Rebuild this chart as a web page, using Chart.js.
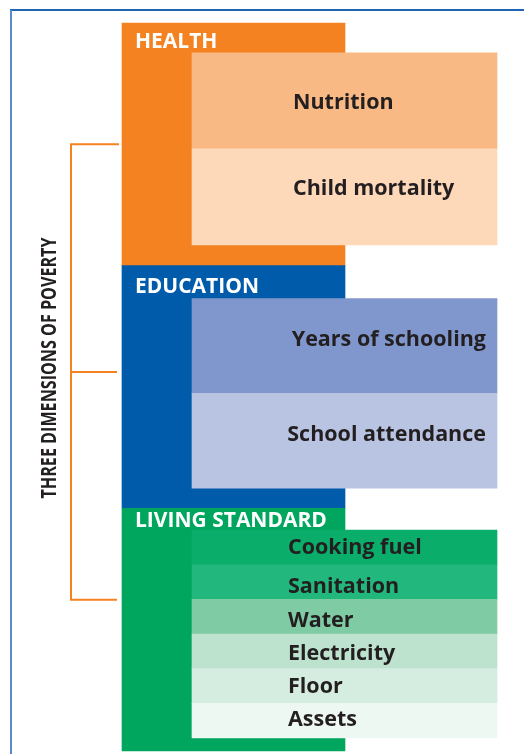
<!DOCTYPE html>
<html>
<head>
<meta charset="utf-8">
<script src="https://cdn.jsdelivr.net/npm/chart.js@4/dist/chart.umd.min.js"></script>
<style>
  html, body { margin: 0; padding: 0; background: #fff; }
  canvas { display: block; }
</style>
</head>
<body>
<canvas id="mpi" width="524" height="754"></canvas>
<script>
// datos del diagrama: dimensiones, indicadores y sus pesos
const columns = ['Dimension', 'Indicator'];
const dimensions = ['HEALTH', 'EDUCATION', 'LIVING STANDARD'];
const dimensionWeights = [1/3, 1/3, 1/3];
const indicators = ['Nutrition', 'Child mortality', 'Years of schooling', 'School attendance',
  'Cooking fuel', 'Sanitation', 'Water', 'Electricity', 'Floor', 'Assets'];
const indicatorDimension = [0, 0, 1, 1, 2, 2, 2, 2, 2, 2];
const indicatorWeights = [1/6, 1/6, 1/6, 1/6, 1/18, 1/18, 1/18, 1/18, 1/18, 1/18];
const sideTitle = 'THREE DIMENSIONS OF POVERTY';

// colores y estilos
const dimensionColors = ['#f58220', '#005baa', '#00a65d'];
const indicatorColors = ['#f9b984', '#fdd9b9', '#8097ce', '#b9c4e3',
  '#0bad6a', '#21b77d', '#7fcba4', '#bde3cf', '#d5ece0', '#eef8f3'];
const innerPadTop = [0.123, 0.136, 0.09];     // fraccion de la dimension
const innerPadBottom = [0.086, 0.083, 0.054];
const titleOffset = [25, 27, 19];
const labelAlign = ['left', 'right', 'left'];
const labelShift = [0, -10, -8, -8, -1, 3, 2, 1, -1, -3];
const textColor = '#231f20';

// rangos flotantes a partir de los pesos
let acc = 0;
const dimensionRanges = dimensionWeights.map(w => { const r = [acc, acc + w]; acc += w; return r; });

const indicatorRanges = [];
dimensions.forEach((d, k) => {
  const [s, e] = dimensionRanges[k];
  const w = e - s;
  const top = s + innerPadTop[k] * w;
  const bottom = e - innerPadBottom[k] * w;
  let total = 0;
  indicatorWeights.forEach((iw, i) => { if (indicatorDimension[i] === k) total += iw; });
  let c = top;
  indicatorWeights.forEach((iw, i) => {
    if (indicatorDimension[i] !== k) return;
    const h = (bottom - top) * iw / total;
    indicatorRanges[i] = [c, c + h];
    c += h;
  });
});

const decor = {
  id: 'decor',
  beforeDraw(chart) {
    const ctx = chart.ctx;
    ctx.save();
    ctx.fillStyle = '#fff';
    ctx.fillRect(0, 0, chart.width, chart.height);
    ctx.lineWidth = 2;
    ctx.strokeStyle = '#1f64b5';
    ctx.beginPath(); ctx.moveTo(10, 10); ctx.lineTo(chart.width, 10); ctx.stroke();
    ctx.strokeStyle = '#5b8ac6';
    ctx.beginPath(); ctx.moveTo(11, 10); ctx.lineTo(11, chart.height); ctx.stroke();
    ctx.restore();
  },
  afterDatasetsDraw(chart) {
    const ctx = chart.ctx;
    const dims = chart.getDatasetMeta(0).data;
    const inds = chart.getDatasetMeta(1).data;
    ctx.save();

    // titulos de las dimensiones
    ctx.fillStyle = '#fff';
    ctx.font = '700 21px "Open Sans"';
    ctx.textAlign = 'left';
    ctx.textBaseline = 'alphabetic';
    dims.forEach((el, k) => {
      const left = el.x - el.width / 2;
      const top = Math.min(el.y, el.base);
      ctx.fillText(dimensions[k], left + 13, top + titleOffset[k]);
    });

    // nombres de los indicadores
    ctx.fillStyle = textColor;
    ctx.font = '700 21.5px "Open Sans"';
    inds.forEach((el, i) => {
      const k = indicatorDimension[i];
      const left = el.x - el.width / 2;
      const right = el.x + el.width / 2;
      const mid = (el.y + el.base) / 2;
      ctx.textAlign = labelAlign[k];
      const x = labelAlign[k] === 'right' ? right - 11 : left + (k === 2 ? 96 : 101);
      ctx.fillText(indicators[i], x, mid + 8 + labelShift[i]);
    });

    // corchete naranja
    const first = dims[0], last = dims[dims.length - 1];
    const dimLeft = first.x - first.width / 2;
    const yTop = (first.y + first.base) / 2;
    const yBot = (last.y + last.base) / 2 - 30;
    const yMid = (yTop + yBot) / 2;
    const xv = dimLeft - 51;
    ctx.strokeStyle = dimensionColors[0];
    ctx.lineWidth = 2;
    ctx.beginPath();
    ctx.moveTo(dimLeft - 3, yTop); ctx.lineTo(xv, yTop); ctx.lineTo(xv, yBot); ctx.lineTo(dimLeft - 5, yBot);
    ctx.moveTo(xv, yMid); ctx.lineTo(dimLeft - 5, yMid);
    ctx.stroke();

    // titulo vertical
    ctx.fillStyle = textColor;
    ctx.font = '700 21px "Open Sans"';
    ctx.textAlign = 'center';
    ctx.textBaseline = 'middle';
    const natural = ctx.measureText(sideTitle).width;
    ctx.translate(dimLeft - 72, yMid - 4);
    ctx.rotate(-Math.PI / 2);
    ctx.scale(261 / natural, 1);
    ctx.fillText(sideTitle, 0, 0);
    ctx.restore();
  }
};

new Chart(document.getElementById('mpi'), {
  type: 'bar',
  data: {
    labels: columns,
    datasets: [
      {
        label: 'Dimensions',
        data: dimensionRanges.map(r => ({ x: columns[0], y: r })),
        backgroundColor: dimensionColors,
        barThickness: 223,
        grouped: false,
        clip: false,
        borderWidth: 0,
        order: 2
      },
      {
        label: 'Indicators',
        data: indicatorRanges.map(r => ({ x: columns[1], y: r })),
        backgroundColor: indicatorColors,
        barThickness: 305,
        grouped: false,
        clip: false,
        borderWidth: 0,
        order: 1
      }
    ]
  },
  options: {
    responsive: false,
    animation: false,
    layout: { padding: { left: 178, right: 124, top: 23, bottom: 3 } },
    plugins: { legend: { display: false }, tooltip: { enabled: false } },
    scales: {
      x: { display: false, offset: true },
      y: { display: false, reverse: true, min: 0, max: 1 }
    }
  },
  plugins: [decor]
});
</script>
</body>
</html>
